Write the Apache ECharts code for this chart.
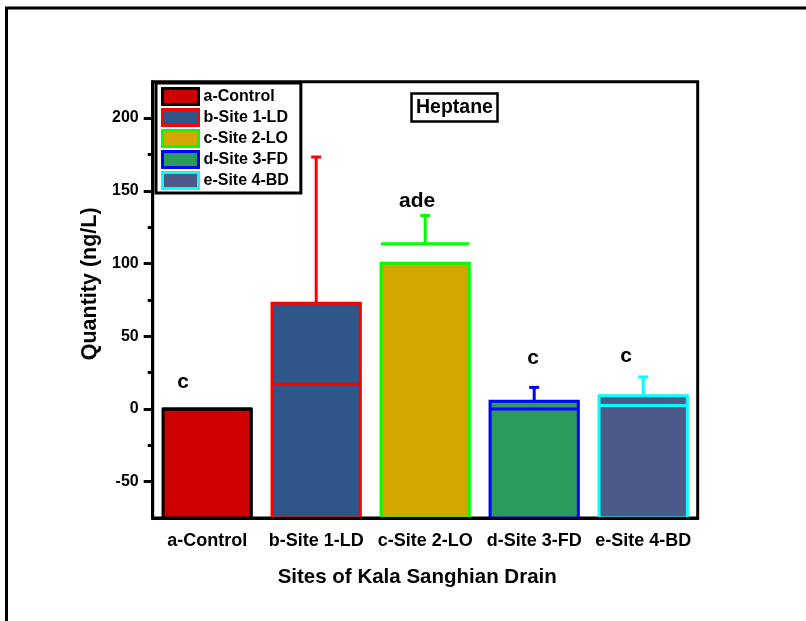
<!DOCTYPE html>
<html><head><meta charset="utf-8">
<script src="https://cdn.jsdelivr.net/npm/echarts@6/dist/echarts.min.js"></script>
<style>html,body{margin:0;padding:0;background:#fff}#c{width:806px;height:621px}</style>
</head><body><div id="c"></div>
<script>
// ---- data ----
const categories = ['a-Control', 'b-Site 1-LD', 'c-Site 2-LO', 'd-Site 3-FD', 'e-Site 4-BD'];
const columnValues = [0, 72.7, 100.2, 5.2, 9.1];
const lineValues = [0, 17, 113.6, 0, 2.3];
const errorTopValues = [null, 173.2, 133, 14.8, 22];
const letterLabels = ['c', '', 'ade', 'c', 'c'];
const letterValues = [18.4, null, 143, 34.7, 36.4];
const yMajorTicks = [-50, 0, 50, 100, 150, 200];
const yMinorTicks = [-25, 25, 75, 125, 175];
const yMin = -75, yMax = 225;

// ---- styles ----
const fillColors = ['#cf0000', '#2e5689', '#d3a600', '#2b9a5d', '#4d5a89'];
const borderColors = ['#000000', '#ff0000', '#00ff00', '#0000ff', '#00ffff'];
const letterDx = [-24, 0, -8, -1, -17];
const FONT = 'Liberation Sans, Arial, sans-serif';

const chart = echarts.init(document.getElementById('c'), null, {renderer: 'canvas'});

function makeRender(i) {
  return function (params, api) {
    const x = api.value(0);
    const top = api.coord([x, api.value(1)]);
    const base = api.coord([x, yMin]);
    const ln = api.coord([x, api.value(2)]);
    const w = api.size([1, 0])[0] * 0.81;
    const children = [];
    children.push({
      type: 'rect',
      shape: {x: top[0] - w / 2, y: top[1], width: w, height: base[1] - top[1]},
      style: {fill: fillColors[i], stroke: borderColors[i], lineWidth: 3}
    });
    children.push({
      type: 'line',
      shape: {x1: top[0] - w / 2, y1: ln[1], x2: top[0] + w / 2, y2: ln[1]},
      style: {stroke: borderColors[i], lineWidth: 3}
    });
    const et = api.value(3);
    if (et !== null && !isNaN(et)) {
      const s = api.coord([x, Math.max(api.value(1), api.value(2))]);
      const e = api.coord([x, et]);
      children.push({
        type: 'line',
        shape: {x1: s[0], y1: s[1], x2: e[0], y2: e[1]},
        style: {stroke: borderColors[i], lineWidth: 3}
      });
      children.push({
        type: 'line',
        shape: {x1: e[0] - 5, y1: e[1], x2: e[0] + 5, y2: e[1]},
        style: {stroke: borderColors[i], lineWidth: 3}
      });
    }
    return {type: 'group', children: children};
  };
}

const series = categories.map((name, i) => ({
  name: name,
  type: 'custom',
  renderItem: makeRender(i),
  itemStyle: {color: fillColors[i], borderColor: borderColors[i], borderWidth: 3},
  data: [[i, columnValues[i], lineValues[i], errorTopValues[i]]],
  z: 2
}));

const letterLabelStyle = {
  show: true, position: 'inside', color: '#000',
  fontFamily: FONT, fontWeight: 'bold', fontSize: 21, textBorderWidth: 0
};
series.push({
  type: 'scatter',
  symbolSize: 0,
  silent: true,
  z: 4,
  itemStyle: {opacity: 1, color: 'transparent'},
  data: letterLabels.map((t, i) => ({
    value: [i, letterValues[i]],
    label: Object.assign({}, letterLabelStyle, {formatter: t, offset: [letterDx[i], 0]})
  })).filter((d, i) => letterLabels[i] !== ''),
  label: letterLabelStyle
});

const option = {
  animation: false,
  backgroundColor: '#fff',
  grid: {
    left: 152.7, right: 108.3, top: 81.7, bottom: 103,
    show: true, borderColor: '#000', borderWidth: 3, backgroundColor: 'transparent'
  },
  title: {
    text: 'Heptane', left: 411, top: 93,
    borderColor: '#000', borderWidth: 2.5, padding: [4, 5, 4, 5],
    textStyle: {fontFamily: FONT, fontWeight: 'bold', fontSize: 19.5, color: '#000', lineHeight: 21}
  },
  legend: {
    left: 156, top: 83, orient: 'vertical',
    backgroundColor: '#fff', borderColor: '#000', borderWidth: 3,
    padding: [4, 12, 3, 5], itemGap: 2, itemWidth: 36, itemHeight: 16,
    selectedMode: false, icon: 'rect',
    textStyle: {fontFamily: FONT, fontWeight: 'bold', fontSize: 16, color: '#000', lineHeight: 17},
    data: categories.map((n, i) => ({
      name: n, icon: 'rect',
      itemStyle: {color: fillColors[i], borderColor: borderColors[i], borderWidth: 3}
    }))
  },
  xAxis: {
    type: 'category', data: categories, z: 10,
    name: 'Sites of Kala Sanghian Drain', nameLocation: 'middle', nameGap: 49,
    nameTextStyle: {fontFamily: FONT, fontWeight: 'bold', fontSize: 20.5, color: '#000', padding: [0, 16, 0, 0]},
    axisLine: {onZero: false, lineStyle: {color: '#000', width: 3}},
    axisTick: {alignWithLabel: true, length: 8, lineStyle: {color: '#000', width: 3}},
    axisLabel: {interval: 0, margin: 14, fontFamily: FONT, fontWeight: 'bold', fontSize: 18, color: '#000'},
    splitLine: {show: false}
  },
  yAxis: [{
    type: 'value', min: yMin, max: yMax, z: 10,
    name: 'Quantity (ng/L)', nameLocation: 'middle', nameGap: 49,
    nameTextStyle: {fontFamily: FONT, fontWeight: 'bold', fontSize: 21.5, color: '#000', padding: [0, 0, 0, 32]},
    axisLine: {show: true, onZero: false, lineStyle: {color: '#000', width: 3}},
    axisTick: {show: true, length: 9, customValues: yMajorTicks, lineStyle: {color: '#000', width: 3}},
    axisLabel: {customValues: yMajorTicks, margin: 14, fontFamily: FONT, fontWeight: 'bold', fontSize: 16, color: '#000'},
    splitLine: {show: false}
  }, {
    type: 'value', min: yMin, max: yMax, position: 'left', z: 10,
    axisLine: {show: false},
    axisTick: {show: true, length: 5, customValues: yMinorTicks, lineStyle: {color: '#000', width: 3}},
    axisLabel: {show: false},
    splitLine: {show: false}
  }],
  graphic: [{
    type: 'polyline', z: 100,
    shape: {points: [[6.5, 621], [6.5, 8], [806, 8]]},
    style: {stroke: '#000', lineWidth: 3, fill: null}
  }],
  series: series
};
chart.setOption(option);
</script>
</body></html>
